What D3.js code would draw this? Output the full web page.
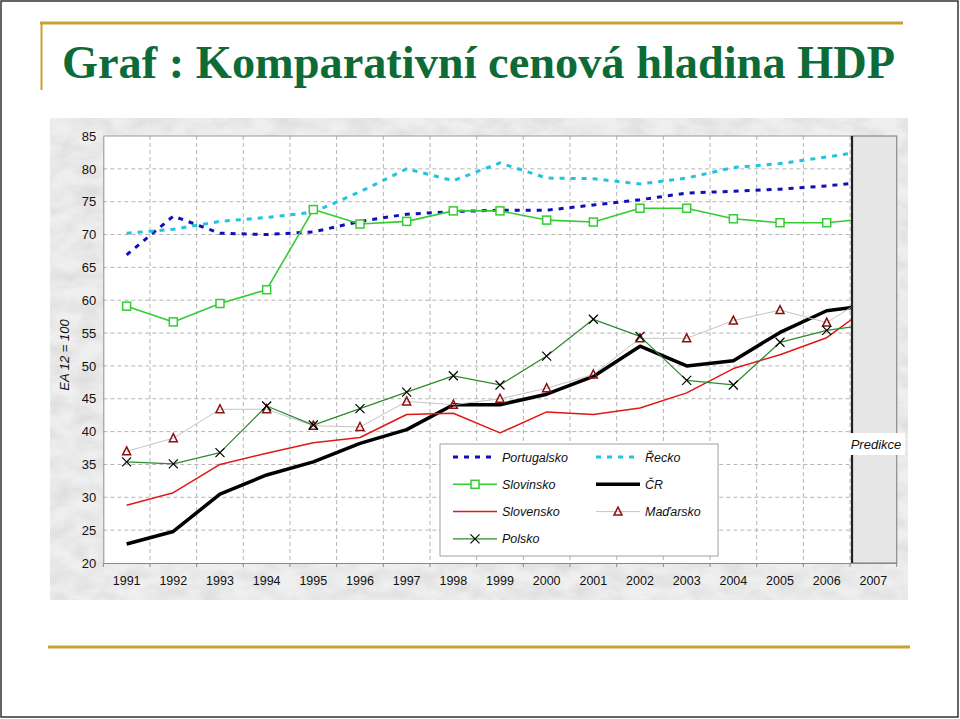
<!DOCTYPE html>
<html>
<head>
<meta charset="utf-8">
<script src="https://cdn.jsdelivr.net/npm/d3@7"></script>
<style>
  html, body { margin: 0; padding: 0; background: #fff; }
  svg { display: block; }
</style>
</head>
<body>
<svg id="chart" width="960" height="719"></svg>
<script>
// ---------- DATA ----------
const years = ["1991","1992","1993","1994","1995","1996","1997","1998","1999","2000","2001","2002","2003","2004","2005","2006","2007"];
const yTicks = [20,25,30,35,40,45,50,55,60,65,70,75,80,85];

const portugalsko = [66.9,72.8,70.2,70.0,70.4,72.0,73.1,73.5,73.7,73.7,74.5,75.3,76.3,76.6,76.9,77.4,78.1];
const recko       = [70.2,70.8,72.0,72.6,73.4,76.5,80.0,78.2,80.9,78.6,78.5,77.7,78.6,80.2,80.8,81.8,82.9];
const slovinsko   = [59.1,56.7,59.5,61.6,73.8,71.6,72.0,73.6,73.6,72.2,71.9,74.0,74.0,72.4,71.8,71.8,72.5];
const cr          = [22.9,24.8,30.5,33.4,35.4,38.2,40.3,44.1,44.1,45.7,48.4,53.0,50.0,50.8,55.1,58.4,59.3];
const slovensko   = [28.8,30.7,35.0,36.7,38.3,39.1,42.6,42.8,39.8,43.0,42.6,43.6,45.9,49.6,51.7,54.3,59.5];
const madarsko    = [37.0,39.0,43.4,43.4,40.9,40.7,44.6,44.1,45.0,46.6,48.7,54.2,54.2,56.9,58.5,56.6,61.0];
const polsko      = [35.4,35.1,36.8,43.9,41.0,43.5,46.0,48.5,47.1,51.5,57.1,54.5,47.8,47.1,53.6,55.4,56.4];

const seriesNames = ["Portugalsko","Řecko","Slovinsko","ČR","Slovensko","Maďarsko","Polsko"];

const titleText = "Graf : Komparativní cenová hladina HDP";
const yAxisTitle = "EA 12 = 100";
const predictionLabel = "Predikce";

(function () {
// ---------- STYLES ----------
const styles = {
  "Portugalsko": {values: portugalsko, color: "#1010B8", width: 3, dash: "5,6", marker: null},
  "Řecko":       {values: recko,       color: "#20C4DC", width: 3, dash: "5,6", marker: null},
  "Slovinsko":   {values: slovinsko,   color: "#33CC33", width: 1.6, dash: null, marker: "square"},
  "ČR":          {values: cr,          color: "#000000", width: 3.5, dash: null, marker: null},
  "Slovensko":   {values: slovensko,   color: "#E01818", width: 1.5, dash: null, marker: null},
  "Maďarsko":    {values: madarsko,    color: "#C4C4C4", width: 1, dash: null, marker: "triangle"},
  "Polsko":      {values: polsko,      color: "#2F8A2F", width: 1.3, dash: null, marker: "x"}
};

const svg = d3.select("#chart");
const defs = svg.append("defs");

// texture filter
const f = defs.append("filter").attr("id","stone").attr("x",0).attr("y",0).attr("width","100%").attr("height","100%");
f.append("feTurbulence").attr("type","fractalNoise").attr("baseFrequency","0.04 0.07").attr("numOctaves",4).attr("seed",7).attr("result","n");
f.append("feColorMatrix").attr("in","n").attr("type","matrix")
  .attr("values","0 0 0 0 0.6  0 0 0 0 0.6  0 0 0 0 0.6  1.1 0 0 0 -0.35");

// slide frame
svg.append("rect").attr("x",1).attr("y",1).attr("width",957).attr("height",716)
  .attr("fill","#fff").attr("stroke","#333").attr("stroke-width",1.5);

// gold decorations
const gold = "#C9A133";
svg.append("line").attr("x1",40).attr("x2",903).attr("y1",23).attr("y2",23).attr("stroke",gold).attr("stroke-width",3);
svg.append("line").attr("x1",41.5).attr("x2",41.5).attr("y1",22).attr("y2",90).attr("stroke",gold).attr("stroke-width",2);
svg.append("line").attr("x1",48).attr("x2",910).attr("y1",647).attr("y2",647).attr("stroke",gold).attr("stroke-width",3);

// title
svg.append("text").attr("x",62).attr("y",78)
  .attr("font-family","'Liberation Serif', 'DejaVu Serif', serif").attr("font-weight","bold")
  .attr("font-size",46).attr("fill","#0D6B37")
  .attr("textLength",833).attr("lengthAdjust","spacingAndGlyphs")
  .text(titleText);

// chart background (texture)
svg.append("rect").attr("x",50).attr("y",118).attr("width",858).attr("height",482).attr("fill","#efefef");
svg.append("rect").attr("x",50).attr("y",118).attr("width",858).attr("height",482).attr("filter","url(#stone)").attr("opacity",0.8);

// scales
const pLeft = 103.3, pRight = 896.7, pTop = 136, pBottom = 563;
const predLeft = 852;
const x = d3.scaleBand().domain(years).range([pLeft, pRight]).padding(0);
const cx = d => x(d) + x.bandwidth()/2;
const y = d3.scaleLinear().domain([20,85]).range([pBottom, pTop]);

// plot area
svg.append("rect").attr("x",pLeft).attr("y",pTop).attr("width",predLeft-pLeft).attr("height",pBottom-pTop).attr("fill","#fff");

// gridlines
const grid = svg.append("g");
grid.append("g").selectAll("line").data(yTicks.filter(t => t>20 && t<85)).join("line")
  .attr("x1",pLeft).attr("x2",predLeft).attr("y1",d=>y(d)).attr("y2",d=>y(d))
  .attr("stroke","#b4b4b4").attr("stroke-width",1).attr("stroke-dasharray","4,3");
grid.append("g").selectAll("line").data(years.slice(1)).join("line")
  .attr("x1",d=>x(d)).attr("x2",d=>x(d)).attr("y1",pTop).attr("y2",pBottom)
  .attr("stroke","#b4b4b4").attr("stroke-width",1).attr("stroke-dasharray","4,3");

// top border
svg.append("line").attr("x1",pLeft).attr("x2",predLeft).attr("y1",pTop).attr("y2",pTop).attr("stroke","#9a9a9a").attr("stroke-width",1);

// y axis
const yAxis = svg.append("g").attr("transform",`translate(${pLeft},0)`)
  .call(d3.axisLeft(y).tickValues(yTicks).tickSize(0).tickPadding(7));
yAxis.select(".domain").attr("stroke","#8a8a8a");
yAxis.selectAll("text").attr("font-family","'Liberation Sans', Arial, sans-serif").attr("font-size",13).attr("fill","#111");

// x axis
const xAxis = svg.append("g").attr("transform",`translate(0,${pBottom})`)
  .call(d3.axisBottom(x).tickSize(0).tickPadding(13));
xAxis.select(".domain").attr("stroke","#8a8a8a");
xAxis.selectAll("text").attr("font-family","'Liberation Sans', Arial, sans-serif").attr("font-size",12.5).attr("fill","#111");
// tick marks at band boundaries
svg.append("g").selectAll("line").data(years.concat(["end"])).join("line")
  .attr("x1",(d,i)=> i<years.length ? x(d) : pRight).attr("x2",(d,i)=> i<years.length ? x(d) : pRight)
  .attr("y1",pBottom).attr("y2",pBottom+4).attr("stroke","#8a8a8a");

// y axis title
svg.append("text").attr("transform","translate(69,355) rotate(-90)")
  .attr("text-anchor","middle").attr("font-family","'Liberation Sans', Arial, sans-serif")
  .attr("font-style","italic").attr("font-size",13).attr("fill","#111").text(yAxisTitle);

// clip
defs.append("clipPath").attr("id","plotclip").append("rect")
  .attr("x",pLeft-10).attr("y",pTop-10).attr("width",predLeft-pLeft+10).attr("height",pBottom-pTop+20);

function drawMarker(g, type, px, py, color) {
  if (type === "square") {
    g.append("rect").attr("x",px-4).attr("y",py-4).attr("width",8).attr("height",8)
      .attr("fill","#fff").attr("stroke",color).attr("stroke-width",1.5);
  } else if (type === "triangle") {
    g.append("path").attr("d",`M${px},${py-4.5}L${px+4},${py+3.5}L${px-4},${py+3.5}Z`)
      .attr("fill","none").attr("stroke","#8B1010").attr("stroke-width",1.5);
  } else if (type === "x") {
    g.append("path").attr("d",`M${px-4.5},${py-4.5}L${px+4.5},${py+4.5}M${px+4.5},${py-4.5}L${px-4.5},${py+4.5}`)
      .attr("stroke","#000").attr("stroke-width",1.2);
  }
}

const lineGen = d3.line().x((d,i)=>cx(years[i])).y(d=>y(d));
const plotG = svg.append("g").attr("clip-path","url(#plotclip)");
seriesNames.forEach(name => {
  const s = styles[name];
  plotG.append("path").datum(s.values).attr("d",lineGen)
    .attr("fill","none").attr("stroke",s.color).attr("stroke-width",s.width)
    .attr("stroke-dasharray",s.dash).attr("stroke-linejoin","round");
  if (s.marker) {
    const mg = plotG.append("g");
    s.values.forEach((v,i) => { if (i < years.length-1) drawMarker(mg, s.marker, cx(years[i]), y(v), s.color); });
  }
});

// prediction zone
svg.append("rect").attr("x",predLeft).attr("y",pTop).attr("width",pRight-predLeft).attr("height",pBottom-pTop)
  .attr("fill","#e6e6e6").attr("stroke","#8a8a8a").attr("stroke-width",1.2);
svg.append("line").attr("x1",predLeft).attr("x2",predLeft).attr("y1",pTop).attr("y2",pBottom)
  .attr("stroke","#222").attr("stroke-width",2.2);
svg.append("rect").attr("x",847).attr("y",433).attr("width",58).attr("height",22).attr("fill","#fff");
svg.append("text").attr("x",876).attr("y",448.5).attr("text-anchor","middle")
  .attr("font-family","'Liberation Sans', Arial, sans-serif").attr("font-style","italic")
  .attr("font-size",13).attr("fill","#111").text(predictionLabel);

// legend
const lg = svg.append("g");
lg.append("rect").attr("x",440).attr("y",444).attr("width",278).attr("height",112)
  .attr("fill","#fff").attr("stroke","#a0a0a0").attr("stroke-width",1);
const legendLayout = [
  {name:"Portugalsko", col:0, row:0}, {name:"Řecko", col:1, row:0},
  {name:"Slovinsko", col:0, row:1},   {name:"ČR", col:1, row:1},
  {name:"Slovensko", col:0, row:2},   {name:"Maďarsko", col:1, row:2},
  {name:"Polsko", col:0, row:3}
];
legendLayout.forEach(e => {
  const s = styles[e.name];
  const x0 = e.col === 0 ? 453 : 596;
  const x1 = x0 + 44;
  const ly = 457 + e.row * 27.3;
  lg.append("line").attr("x1",x0).attr("x2",x1).attr("y1",ly).attr("y2",ly)
    .attr("stroke",s.color).attr("stroke-width",s.width).attr("stroke-dasharray",s.dash);
  if (s.marker) drawMarker(lg, s.marker, (x0+x1)/2, ly, s.color);
  lg.append("text").attr("x",x1+5).attr("y",ly+4.5)
    .attr("font-family","'Liberation Sans', Arial, sans-serif").attr("font-style","italic")
    .attr("font-size",12.5).attr("fill","#111").text(e.name);
});
})();
</script>
</body>
</html>
